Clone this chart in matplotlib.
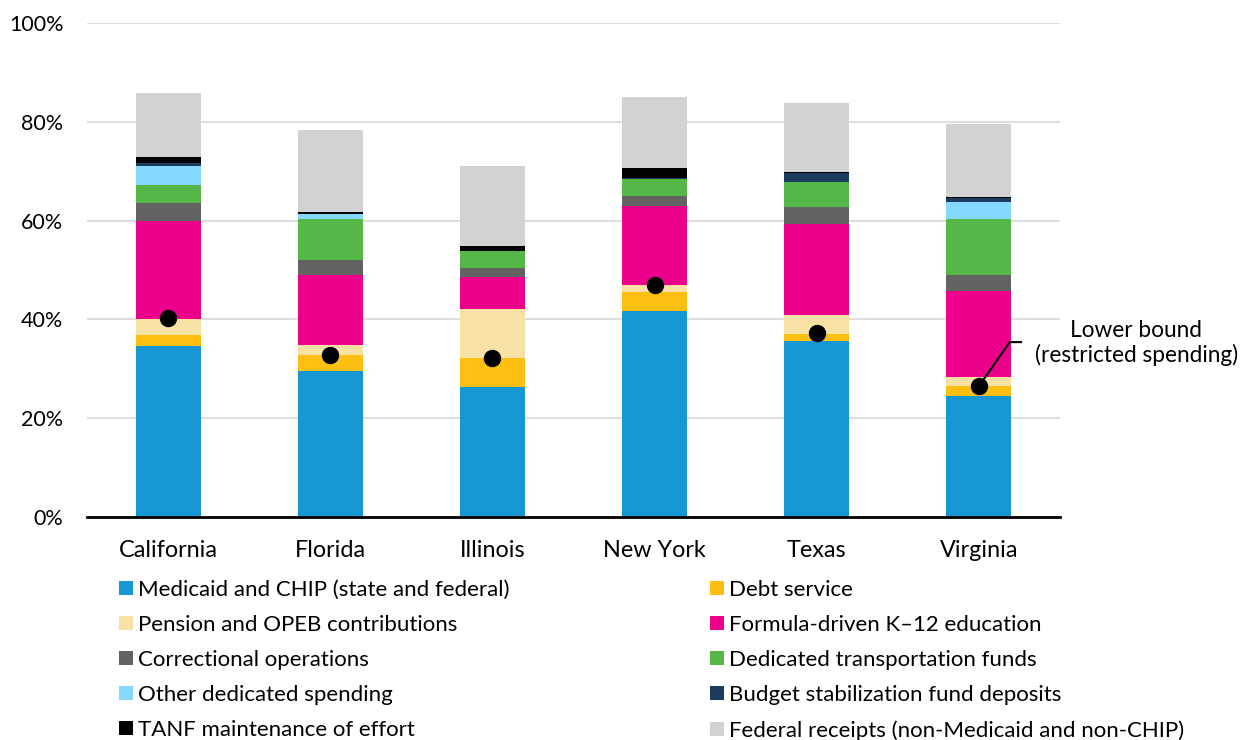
import matplotlib
matplotlib.use("Agg")
import matplotlib.pyplot as plt
from matplotlib.patches import Patch
import numpy as np

plt.rcParams['font.family'] = ['Lato', 'DejaVu Sans']

# data (share of spending, %)
states = ['California', 'Florida', 'Illinois', 'New York', 'Texas', 'Virginia']

medicaid = [34.7, 29.6, 26.4, 41.7, 35.6, 24.5]
debt = [2.1, 3.1, 5.8, 3.8, 1.4, 2.0]
pension = [3.3, 2.1, 9.9, 1.5, 3.9, 1.8]
k12 = [19.9, 14.2, 6.4, 16.0, 18.5, 17.4]
corrections = [3.5, 3.0, 2.0, 1.9, 3.4, 3.3]
transport = [3.7, 8.4, 3.3, 3.5, 5.0, 11.3]
other = [3.9, 0.9, 0.0, 0.0, 0.0, 3.5]
bsf = [0.6, 0.1, 0.0, 0.2, 1.8, 0.8]
tanf = [1.2, 0.4, 1.1, 2.0, 0.3, 0.2]
federal = [13.0, 16.5, 16.2, 14.5, 13.9, 14.8]

lower_bound = [40.2, 32.8, 32.2, 47.0, 37.2, 26.5]

series = [
    ('Medicaid and CHIP (state and federal)', medicaid, '#1696d2'),
    ('Debt service', debt, '#fdbf11'),
    ('Pension and OPEB contributions', pension, '#f7e1a5'),
    ('Formula-driven K\u201312 education', k12, '#ec008b'),
    ('Correctional operations', corrections, '#636363'),
    ('Dedicated transportation funds', transport, '#55b748'),
    ('Other dedicated spending', other, '#85d9fe'),
    ('Budget stabilization fund deposits', bsf, '#1b3b5f'),
    ('TANF maintenance of effort', tanf, '#000000'),
    ('Federal receipts (non-Medicaid and non-CHIP)', federal, '#d2d2d2'),
]

fig = plt.figure(figsize=(12.41, 7.40), dpi=100)
ax = fig.add_axes([87/1241, 1 - 517/740, (1060-87)/1241, (517-23)/740])

x = np.arange(len(states))
bottom = np.zeros(len(states))
for name, vals, col in series:
    v = np.array(vals) / 100
    ax.bar(x, v, 0.4, bottom=bottom, color=col, linewidth=0, zorder=2)
    bottom += v

lb = np.array(lower_bound) / 100
ax.plot(x, lb, 'o', color='black', markersize=11.5, zorder=4)

# annotation for the lower bound marker (Virginia)
i = len(states) - 1
ax.plot([x[i], x[i] + 0.19, x[i] + 0.26], [lb[i], 0.354, 0.354],
        color='black', linewidth=1.5, clip_on=False, zorder=3)
ax.text(x[i] + 0.97, 0.352, 'Lower bound\n(restricted spending)', ha='center',
        va='center', fontsize=16.3, linespacing=1.2)

ax.set_xlim(-0.5, len(states) - 0.5)
ax.set_ylim(0, 1)
ax.set_yticks(np.arange(0, 1.01, 0.2))
ax.set_yticklabels(['%d%%' % round(t * 100) for t in np.arange(0, 1.01, 0.2)])
ax.set_xticks(x)
ax.set_xticklabels(states)
ax.tick_params(axis='both', length=0)
ax.tick_params(axis='y', pad=17, labelsize=15.5)
ax.tick_params(axis='x', pad=16.5, labelsize=16.8)
ax.yaxis.grid(True, color='#dedede', linewidth=1.5, zorder=0)
ax.set_axisbelow(True)
for s in ['top', 'right', 'left']:
    ax.spines[s].set_visible(False)
ax.spines['bottom'].set_linewidth(2)
ax.spines['bottom'].set_zorder(5)

handles = [Patch(facecolor=c, label=n) for n, _, c in series]
order = [0, 2, 4, 6, 8, 1, 3, 5, 7, 9]
fig.legend([handles[k] for k in order], [series[k][0] for k in order],
           loc='upper left', bbox_to_anchor=(119/1241, 1 - 580/740),
           ncol=2, frameon=False, fontsize=16, handlelength=0.63,
           handleheight=0.63, handletextpad=0.23, columnspacing=9.0,
           labelspacing=0.675, borderpad=0, borderaxespad=0)

fig.savefig('out.png', dpi=100)
